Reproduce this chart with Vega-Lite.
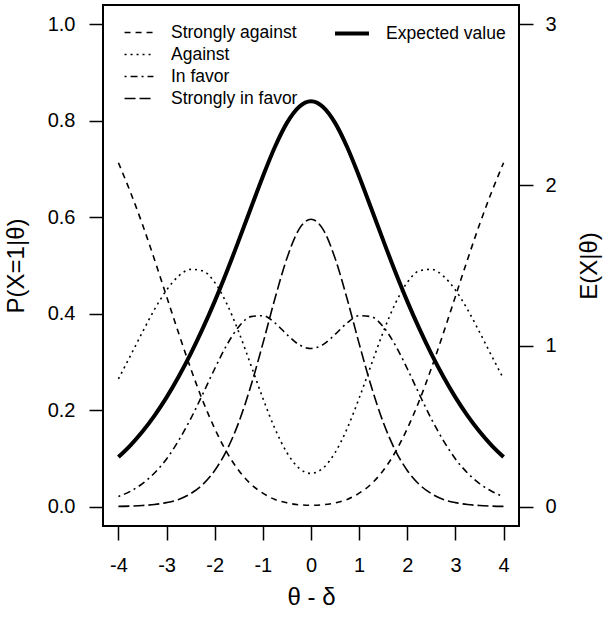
{
  "$schema": "https://vega.github.io/schema/vega-lite/v6.json",
  "width": 416,
  "height": 521,
  "autosize": {"type": "none"},
  "padding": {"left": 103, "top": 5, "right": 92, "bottom": 94},
  "background": "white",
  "config": {
    "font": "Liberation Sans",
    "view": {"stroke": "black", "strokeWidth": 2},
    "axis": {
      "domain": false, "grid": false,
      "tickColor": "black", "tickWidth": 1.5, "tickSize": 14,
      "labelColor": "black", "labelFont": "Liberation Sans", "labelFontSize": 20,
      "titleFont": "Liberation Sans", "titleFontSize": 24, "titleFontWeight": "normal", "titleColor": "black"
    },
    "legend": {"labelFont": "Liberation Sans", "labelColor": "black"}
  },
  "datasets": {
    "gg": [
      {"d": -4.0, "sa": 0.713, "ag": 0.265, "fa": 0.021, "sf": 0.0006, "E": 0.309},
      {"d": -3.75, "sa": 0.652, "ag": 0.313, "fa": 0.032, "sf": 0.0012, "E": 0.382},
      {"d": -3.5, "sa": 0.585, "ag": 0.362, "fa": 0.048, "sf": 0.0024, "E": 0.468},
      {"d": -3.25, "sa": 0.512, "ag": 0.409, "fa": 0.070, "sf": 0.0046, "E": 0.567},
      {"d": -3.0, "sa": 0.436, "ag": 0.449, "fa": 0.099, "sf": 0.0085, "E": 0.680},
      {"d": -2.75, "sa": 0.360, "ag": 0.478, "fa": 0.137, "sf": 0.015, "E": 0.808},
      {"d": -2.5, "sa": 0.287, "ag": 0.492, "fa": 0.182, "sf": 0.027, "E": 0.950},
      {"d": -2.25, "sa": 0.220, "ag": 0.489, "fa": 0.233, "sf": 0.046, "E": 1.107},
      {"d": -2.0, "sa": 0.162, "ag": 0.465, "fa": 0.286, "sf": 0.075, "E": 1.277},
      {"d": -1.75, "sa": 0.113, "ag": 0.421, "fa": 0.335, "sf": 0.117, "E": 1.461},
      {"d": -1.5, "sa": 0.075, "ag": 0.362, "fa": 0.373, "sf": 0.175, "E": 1.656},
      {"d": -1.25, "sa": 0.047, "ag": 0.294, "fa": 0.394, "sf": 0.250, "E": 1.856},
      {"d": -1.0, "sa": 0.028, "ag": 0.225, "fa": 0.396, "sf": 0.338, "E": 2.054},
      {"d": -0.75, "sa": 0.015, "ag": 0.162, "fa": 0.381, "sf": 0.431, "E": 2.237},
      {"d": -0.5, "sa": 0.008, "ag": 0.112, "fa": 0.357, "sf": 0.515, "E": 2.387},
      {"d": -0.25, "sa": 0.004, "ag": 0.080, "fa": 0.336, "sf": 0.575, "E": 2.486},
      {"d": 0.0, "sa": 0.003, "ag": 0.069, "fa": 0.328, "sf": 0.596, "E": 2.521},
      {"d": 0.25, "sa": 0.004, "ag": 0.080, "fa": 0.336, "sf": 0.575, "E": 2.486},
      {"d": 0.5, "sa": 0.008, "ag": 0.112, "fa": 0.357, "sf": 0.515, "E": 2.387},
      {"d": 0.75, "sa": 0.015, "ag": 0.162, "fa": 0.381, "sf": 0.431, "E": 2.237},
      {"d": 1.0, "sa": 0.028, "ag": 0.225, "fa": 0.396, "sf": 0.338, "E": 2.054},
      {"d": 1.25, "sa": 0.047, "ag": 0.294, "fa": 0.394, "sf": 0.250, "E": 1.856},
      {"d": 1.5, "sa": 0.075, "ag": 0.362, "fa": 0.373, "sf": 0.175, "E": 1.656},
      {"d": 1.75, "sa": 0.113, "ag": 0.421, "fa": 0.335, "sf": 0.117, "E": 1.461},
      {"d": 2.0, "sa": 0.162, "ag": 0.465, "fa": 0.286, "sf": 0.075, "E": 1.277},
      {"d": 2.25, "sa": 0.220, "ag": 0.489, "fa": 0.233, "sf": 0.046, "E": 1.107},
      {"d": 2.5, "sa": 0.287, "ag": 0.492, "fa": 0.182, "sf": 0.027, "E": 0.950},
      {"d": 2.75, "sa": 0.360, "ag": 0.478, "fa": 0.137, "sf": 0.015, "E": 0.808},
      {"d": 3.0, "sa": 0.436, "ag": 0.449, "fa": 0.099, "sf": 0.0085, "E": 0.680},
      {"d": 3.25, "sa": 0.512, "ag": 0.409, "fa": 0.070, "sf": 0.0046, "E": 0.567},
      {"d": 3.5, "sa": 0.585, "ag": 0.362, "fa": 0.048, "sf": 0.0024, "E": 0.468},
      {"d": 3.75, "sa": 0.652, "ag": 0.313, "fa": 0.032, "sf": 0.0012, "E": 0.382},
      {"d": 4.0, "sa": 0.713, "ag": 0.265, "fa": 0.021, "sf": 0.0006, "E": 0.309}
    ]
  },
  "data": {"name": "gg"},
  "layer": [
    {
      "transform": [{"fold": ["sa", "ag", "fa", "sf"], "as": ["cat", "p"]}],
      "mark": {"type": "line", "color": "black", "strokeWidth": 1.6, "interpolate": "monotone"},
      "encoding": {
        "x": {
          "field": "d", "type": "quantitative",
          "scale": {"domain": [-4.32, 4.32], "nice": false, "zero": false},
          "axis": {
            "values": [-4, -3, -2, -1, 0, 1, 2, 3, 4], "title": "θ - δ",
            "labelExpr": "'' + datum.value",
            "labelPadding": 15, "labelFlush": false, "labelOverlap": false,
            "titleX": 208, "titleY": 71, "titleBaseline": "middle", "titleAlign": "center"
          }
        },
        "y": {
          "field": "p", "type": "quantitative",
          "scale": {"domain": [-0.04, 1.04], "nice": false, "zero": false},
          "axis": {
            "orient": "left", "values": [0, 0.2, 0.4, 0.6, 0.8, 1], "format": ".1f",
            "title": "P(X=1|θ)", "labelPadding": 14,
            "titleAngle": 270, "titleX": -87, "titleY": 260.5, "titleBaseline": "middle", "titleAlign": "center"
          }
        },
        "strokeDash": {
          "field": "cat", "type": "nominal",
          "scale": {"domain": ["sa", "ag", "fa", "sf"], "range": [[6, 5], [2, 4], [2, 4, 7, 4], [11, 4]]},
          "legend": {
            "orient": "none", "legendX": 26.5, "legendY": 18, "title": null, "padding": 0,
            "symbolType": "M-1.7,0H1.7", "symbolSize": 289, "symbolStrokeWidth": 1.6, "symbolStrokeColor": "black",
            "labelFontSize": 17.5, "labelOffset": 22.5, "rowPadding": 4,
            "labelExpr": "{'sa': 'Strongly against', 'ag': 'Against', 'fa': 'In favor', 'sf': 'Strongly in favor'}[datum.label]"
          }
        }
      }
    },
    {
      "mark": {"type": "line", "strokeWidth": 4, "interpolate": "monotone"},
      "encoding": {
        "x": {"field": "d", "type": "quantitative"},
        "y": {
          "field": "E", "type": "quantitative",
          "scale": {"domain": [-0.12, 3.12], "nice": false, "zero": false},
          "axis": {
            "orient": "right", "values": [0, 1, 2, 3], "format": "d",
            "title": "E(X|θ)", "labelPadding": 12,
            "titleAngle": 270, "titleX": 70, "titleY": 260.5, "titleBaseline": "middle", "titleAlign": "center"
          }
        },
        "color": {
          "datum": "Expected value", "type": "nominal",
          "scale": {"range": ["black"]},
          "legend": {
            "orient": "none", "legendX": 238.5, "legendY": 18, "title": null, "padding": 0,
            "symbolType": "M-2,0H2", "symbolSize": 289, "symbolStrokeWidth": 4, "symbolStrokeColor": "black",
            "labelFontSize": 17.5, "labelOffset": 23.5
          }
        }
      }
    }
  ],
  "resolve": {"scale": {"y": "independent"}}
}
